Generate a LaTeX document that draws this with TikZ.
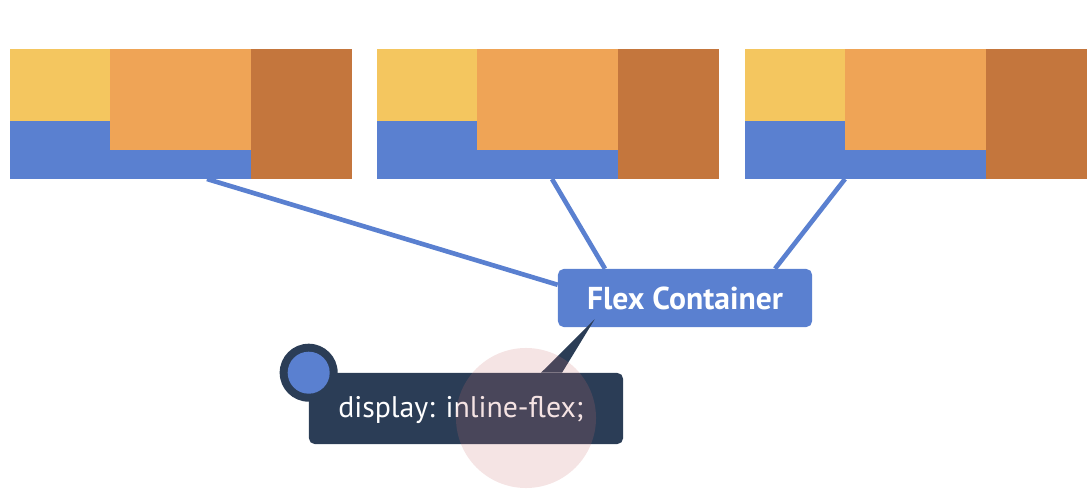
\documentclass[tikz,border=0pt]{standalone}
\usepackage{fontspec}
\setmainfont{PT Sans}
\definecolor{itemyellow}{HTML}{F4C65F}
\definecolor{itemorange}{HTML}{EFA456}
\definecolor{itembrown}{HTML}{C4763D}
\definecolor{flexblue}{HTML}{5A80D0}
\definecolor{tipdark}{HTML}{2B3D56}
\definecolor{touchpink}{RGB}{203,110,110}
\tikzset{
  link/.style={draw=flexblue, line width=3.3pt},
  container/.style={fill=flexblue, rounded corners=4pt, text=white,
    font=\bfseries\fontsize{22.5}{26}\selectfont,
    minimum width=6.35cm, minimum height=1.45cm},
  tipbox/.style={fill=tipdark, rounded corners=4pt,
    minimum width=7.85cm, minimum height=1.775cm},
}
\begin{document}
\begin{tikzpicture}[x=0.025cm, y=-0.025cm]
      \useasboundingbox (0, 0) rectangle (1092, 492);

      \foreach \x/\s [count=\i] in {10/197, 377/175, 745/100} {
        \fill [itemyellow] (\x, 49) rectangle ++(100, 72);
        \fill [flexblue] (\x, 121) rectangle ++(241, 58);
        \fill [itemorange] (\x+100, 49) rectangle ++(141, 101);
        \fill [itembrown] (\x+241, 49) rectangle ++(101, 130);
        \coordinate (item\i) at (\x+\s, 179);
      }

      \node [container] (flexbox) at (685, 298) {Flex Container};

      \draw [link] (item1) -- ([yshift=0.33cm]flexbox.west);
      \draw [link] (item2) -- ([xshift=-2cm]flexbox.north);
      \draw [link] (item3) -- ([xshift=2.25cm]flexbox.north);

      \node [tipbox] (tip) at (466, 408.5) {};
      \fill [tipdark] ([xshift=1.875cm]tip.north) -- ([xshift=0.925cm, yshift=0.2cm]flexbox.south west) -- ([xshift=2.4cm]tip.north) -- cycle;
      \fill [tipdark] (tip.north west) circle (0.725cm);
      \fill [flexblue] (tip.north west) circle (0.525cm);
      \node [anchor=base west, text=white, inner sep=0pt, font=\fontsize{21.2}{25}\selectfont] (tiptext) at (338, 417) {display: inline-flex;};

      \fill [touchpink, opacity=0.19] (526, 418) circle (1.75cm);
\end{tikzpicture}
\end{document}
